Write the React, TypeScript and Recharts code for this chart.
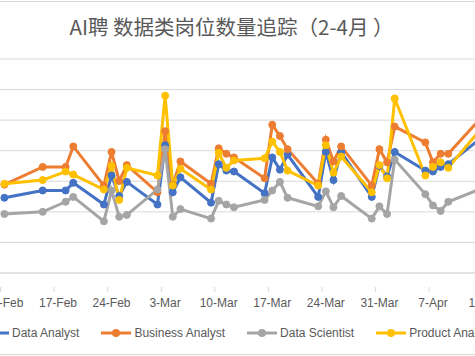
import { LineChart, Line, XAxis, YAxis, CartesianGrid, Legend } from 'recharts';

// 2019 data, one point per scraped day
const DATES = [
  '2019-02-10', '2019-02-15', '2019-02-18', '2019-02-19', '2019-02-23', '2019-02-24',
  '2019-02-25', '2019-02-26', '2019-03-02', '2019-03-03', '2019-03-04', '2019-03-05',
  '2019-03-09', '2019-03-10', '2019-03-11', '2019-03-12', '2019-03-16', '2019-03-17',
  '2019-03-18', '2019-03-19', '2019-03-23', '2019-03-24', '2019-03-25', '2019-03-26',
  '2019-03-30', '2019-03-31', '2019-04-01', '2019-04-02', '2019-04-06', '2019-04-07',
  '2019-04-08', '2019-04-09', '2019-04-13',
];

const DATA_ANALYST = [
  246, 270, 270, 295, 224, 319, 252, 298, 224, 418, 264, 313,
  230, 356, 335, 332, 261, 378, 338, 387, 249, 396, 304, 396,
  249, 350, 316, 396, 335, 332, 347, 356, 436,
];
const BUSINESS_ANALYST = [
  289, 347, 347, 414, 286, 396, 301, 353, 264, 464, 289, 365,
  292, 408, 390, 378, 310, 485, 448, 405, 292, 436, 365, 414,
  286, 405, 362, 479, 427, 362, 390, 390, 500,
];
const DATA_SCIENTIST = [
  193, 200, 233, 249, 169, 270, 184, 190, 273, 405, 184, 209,
  178, 236, 224, 215, 239, 270, 298, 246, 218, 267, 215, 252,
  178, 218, 193, 371, 258, 221, 203, 233, 273,
];
const PRODUCT_ANALYST = [
  292, 304, 332, 322, 273, 350, 239, 344, 319, 580, 286, 341,
  273, 393, 344, 368, 375, 430, 396, 335, 286, 418, 328, 381,
  264, 353, 310, 571, 319, 347, 362, 344, 464,
];

const WEEK_TICKS = [
  '2019-02-10', '2019-02-17', '2019-02-24', '2019-03-03', '2019-03-10',
  '2019-03-17', '2019-03-24', '2019-03-31', '2019-04-07', '2019-04-14',
];
const Y_TICKS = [0, 100, 200, 300, 400, 500, 600, 700];
const MONTHS = ['Jan', 'Feb', 'Mar', 'Apr', 'May', 'Jun', 'Jul', 'Aug', 'Sep', 'Oct', 'Nov', 'Dec'];

const SERIES = [
  { key: 'da', name: 'Data Analyst', values: DATA_ANALYST, color: '#4472C4' },
  { key: 'ba', name: 'Business Analyst', values: BUSINESS_ANALYST, color: '#ED7D31' },
  { key: 'ds', name: 'Data Scientist', values: DATA_SCIENTIST, color: '#A5A5A5' },
  { key: 'pa', name: 'Product Analyst', values: PRODUCT_ANALYST, color: '#FFC000' },
];

const DAY = 86400000;
const toTime = (s: string) => {
  const [y, m, d] = s.split('-').map(Number);
  return Date.UTC(y, m - 1, d);
};

const WIDTH = 475;
const HEIGHT = 352;
const PLOT_TOP = 57;
const PLOT_BOTTOM = 285;
const START = toTime('2019-02-10') - 0.575 * DAY;
const END = toTime('2019-02-10') + 61.49 * DAY;
const DAY_PX = WIDTH / ((END - START) / DAY);

const chartData = DATES.map((d, i) => {
  const row: Record<string, number> = { t: toTime(d) };
  SERIES.forEach((s) => {
    row[s.key] = s.values[i];
  });
  return row;
});

function DateTick(props: any) {
  const { x, payload } = props;
  const d = new Date(payload.value);
  const label = `${d.getUTCDate()}-${MONTHS[d.getUTCMonth()]}`;
  return (
    <g>
      <line
        x1={x - DAY_PX / 2}
        x2={x - DAY_PX / 2}
        y1={PLOT_BOTTOM}
        y2={PLOT_BOTTOM + 5}
        stroke="#d9d9d9"
      />
      <text x={x} y={PLOT_BOTTOM + 20} textAnchor="middle" fill="#595959" fontSize={12}>
        {label}
      </text>
    </g>
  );
}

function LegendRow() {
  return (
    <div style={{ display: 'flex', alignItems: 'center', whiteSpace: 'nowrap' }}>
      {SERIES.map((s) => (
        <div key={s.key} style={{ display: 'flex', alignItems: 'center', marginRight: 22 }}>
          <svg width={30} height={10} style={{ marginRight: 3 }}>
            <line x1={0} x2={30} y1={5} y2={5} stroke={s.color} strokeWidth={3} />
            <circle cx={15} cy={5} r={4} fill={s.color} />
          </svg>
          <span style={{ fontSize: 12, color: '#595959' }}>{s.name}</span>
        </div>
      ))}
    </div>
  );
}

export default function App() {
  return (
    <div
      style={{
        position: 'absolute',
        left: 0,
        top: 1,
        width: WIDTH,
        height: HEIGHT,
        borderTop: '1px solid #d9d9d9',
        borderBottom: '1px solid #d9d9d9',
        background: '#fff',
        fontFamily: '"Liberation Sans", Arial, sans-serif',
        overflow: 'hidden',
      }}
    >
      <div
        style={{
          position: 'absolute',
          left: 0,
          width: 463,
          top: 14,
          textAlign: 'center',
          fontSize: 20.5,
          lineHeight: '20.5px',
          color: '#595959',
          fontFamily: '"Noto Sans CJK SC", sans-serif',
        }}
      >
        AI聘 数据类岗位数量追踪（2-4月 ）
      </div>
      <LineChart
        width={WIDTH}
        height={HEIGHT}
        data={chartData}
        margin={{ top: PLOT_TOP, right: 0, bottom: HEIGHT - PLOT_BOTTOM - 30, left: 0 }}
      >
        <CartesianGrid vertical={false} stroke="#d9d9d9" />
        <XAxis
          dataKey="t"
          type="number"
          domain={[START, END]}
          allowDataOverflow
          ticks={WEEK_TICKS.map(toTime)}
          tick={<DateTick />}
          tickLine={false}
          axisLine={{ stroke: '#d9d9d9' }}
          height={30}
          interval={0}
        />
        <YAxis hide domain={[0, 700]} ticks={Y_TICKS} width={0} />
        <Legend
          verticalAlign="bottom"
          content={() => <LegendRow />}
          wrapperStyle={{ left: -21, bottom: 14, width: 600 }}
        />
        {SERIES.map((s) => (
          <Line
            key={s.key}
            dataKey={s.key}
            name={s.name}
            stroke={s.color}
            strokeWidth={3}
            type="linear"
            dot={{ r: 3.5, fill: s.color, stroke: s.color, strokeWidth: 1 }}
            isAnimationActive={false}
          />
        ))}
      </LineChart>
    </div>
  );
}
